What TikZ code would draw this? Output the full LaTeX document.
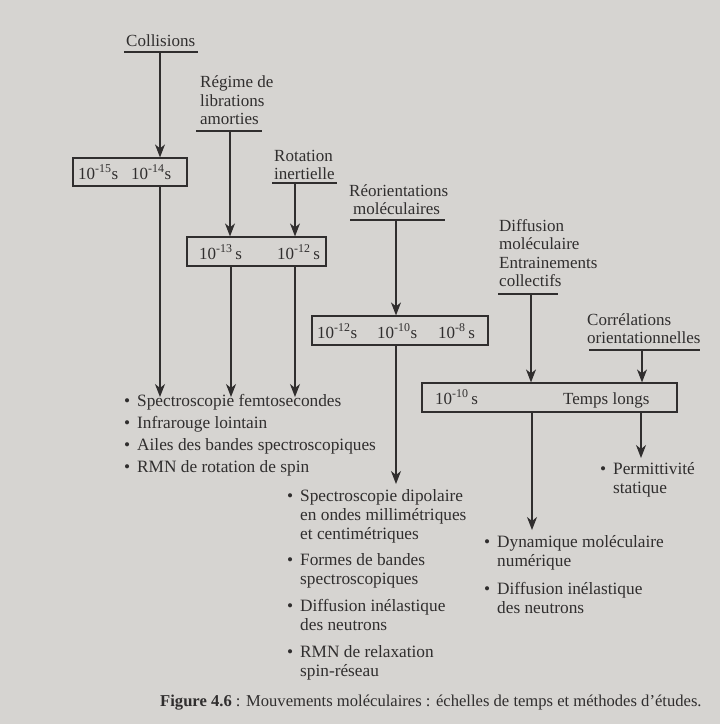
\documentclass[tikz,border=0pt]{standalone}
\usepackage{fontspec}
\setmainfont{Liberation Serif}
\usetikzlibrary{arrows.meta}
\definecolor{bg}{RGB}{214,212,209}
\definecolor{ink}{RGB}{48,46,46}
\begin{document}
\begin{tikzpicture}[x=1pt,y=-1pt,
  font=\fontsize{17}{18.5}\selectfont,
  every node/.style={text=ink},
  hd/.style={inner sep=0pt, align=left, anchor=south west},
  lst/.style={inner sep=0pt, align=left, anchor=base west, font=\fontsize{17.3}{19}\selectfont},
  tbox/.style={draw=ink, line width=1.2pt, inner sep=0pt},
  bt/.style={inner sep=0pt, anchor=base west},
  uline/.style={draw=ink, line width=1.2pt},
  arr/.style={draw=ink, line width=1.1pt, -{Stealth[length=13pt,width=10pt,inset=4pt]}},
  ln/.style={draw=ink, line width=1.1pt}]
\fill[bg] (0,0) rectangle (720,724);
\useasboundingbox (0,0) rectangle (720,724);
\newcommand{\bul}{\llap{\textbullet\hspace{7pt}}}
\newcommand{\tp}[1]{10\textsuperscript{#1}}

% headings
\node[hd] (coll) at (126,47) {Collisions};
\coordinate (u1l) at (124,52); \coordinate (u1r) at (198,52);
\node[hd] (regi) at (200,125) {Régime de\\librations\\amorties};
\coordinate (u2l) at (196,131); \coordinate (u2r) at (262,131);
\node[hd] (rota) at (274,180) {Rotation\\inertielle};
\coordinate (u3l) at (272,183); \coordinate (u3r) at (337,183);
\node[hd] (reor) at (349,215) {Réorientations\\\hspace*{4pt}moléculaires};
\coordinate (u4l) at (350,220); \coordinate (u4r) at (445,220);
\node[hd] (diff) at (499,287) {Diffusion\\moléculaire\\Entrainements\\collectifs};
\coordinate (u5l) at (498,294); \coordinate (u5r) at (558,294);
\node[hd] (corr) at (587,344) {Corrélations\\orientationnelles};
\coordinate (u6l) at (589,350); \coordinate (u6r) at (700,350);
\foreach \i in {1,...,6} {\draw[uline] (u\i l) -- (u\i r);}

% boxes
\node[tbox, minimum width=114pt, minimum height=28pt] (b1) at (130,172) {};
\node[tbox, minimum width=139pt, minimum height=29pt] (b2) at (256.5,251.5) {};
\node[tbox, minimum width=176pt, minimum height=29pt] (b3) at (400,330.5) {};
\node[tbox, minimum width=255pt, minimum height=29pt] (b4) at (549.5,397.5) {};

\node[bt] (t1a) at (78,179) {\tp{-15}s};
\node[bt] (t1b) at (131,179) {\tp{-14}s};
\node[bt] (t2a) at (199,259) {\tp{-13}\,s};
\node[bt] (t2b) at (277,259) {\tp{-12}\,s};
\node[bt] (t3a) at (317,338) {\tp{-12}s};
\node[bt] (t3b) at (377,338) {\tp{-10}s};
\node[bt] (t3c) at (438,338) {\tp{-8}\,s};
\node[bt] (t4a) at (435,404) {\tp{-10}\,s};
\node[bt] (t4b) at (563,404) {Temps longs};

% arrows from headings to boxes
\coordinate (a1) at (160,52);
\coordinate (a2) at (230,131);
\coordinate (a3) at (295,183);
\coordinate (a4) at (396,220);
\coordinate (a5) at (531,294);
\coordinate (a6) at (642,350);
\draw[arr] (a1) -- (a1 |- b1.north);
\draw[arr] (a2) -- (a2 |- b2.north);
\draw[arr] (a3) -- (a3 |- b2.north);
\draw[arr] (a4) -- (a4 |- b3.north);
\draw[arr] (a5) -- (a5 |- b4.north);
\draw[arr] (a6) -- (a6 |- b4.north);

% lists (base anchor = last line)
\node[lst] (l1) at (137,406) {\bul Spectroscopie femtosecondes};
\node[lst] (l2) at (137,428) {\bul Infrarouge lointain};
\node[lst] (l3) at (137,450) {\bul Ailes des bandes spectroscopiques};
\node[lst] (l4) at (137,472) {\bul RMN de rotation de spin};

\node[lst] (m1) at (300,539) {\bul Spectroscopie dipolaire\\en ondes millimétriques\\et centimétriques};
\node[lst] (m2) at (300,584) {\bul Formes de bandes\\spectroscopiques};
\node[lst] (m3) at (300,630) {\bul Diffusion inélastique\\des neutrons};
\node[lst] (m4) at (300,676) {\bul RMN de relaxation\\spin-réseau};

\node[lst] (r1) at (497,566) {\bul Dynamique moléculaire\\numérique};
\node[lst] (r2) at (497,613) {\bul Diffusion inélastique\\des neutrons};
\node[lst] (p1) at (613,493) {\bul Permittivité\\statique};

% arrows from boxes to lists
\coordinate (e1) at (160,397);
\coordinate (e2) at (231,397);
\coordinate (e3) at (295,397);
\coordinate (e4) at (396,484);
\coordinate (e5) at (532,530);
\coordinate (e6) at (641,458);
\draw[arr] (e1 |- b1.south) -- (e1);
\draw[arr] (e2 |- b2.south) -- (e2);
\draw[arr] (e3 |- b2.south) -- (e3);
\draw[arr] (e4 |- b3.south) -- (e4);
\draw[arr] (e5 |- b4.south) -- (e5);
\draw[arr] (e6 |- b4.south) -- (e6);

% caption
\node[inner sep=0pt, anchor=base west, font=\fontsize{16.6}{18}\selectfont] (cap) at (160,706)
  {\textbf{Figure 4.6} : Mouvements moléculaires : échelles de temps et méthodes d’études.};
\end{tikzpicture}
\end{document}
